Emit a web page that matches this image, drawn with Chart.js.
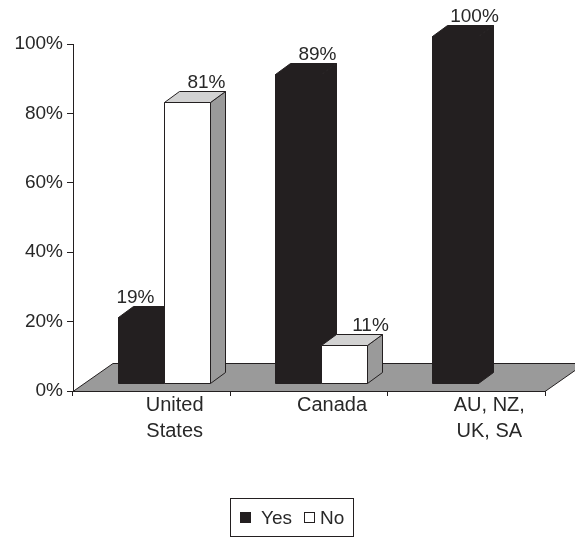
<!DOCTYPE html>
<html>
<head>
<meta charset="utf-8">
<script src="https://cdn.jsdelivr.net/npm/chart.js@4.4.1/dist/chart.umd.min.js"></script>
<style>
  html, body { margin: 0; padding: 0; background: #fff; }
  canvas { display: block; }
</style>
</head>
<body>
<canvas id="c" width="575" height="540"></canvas>
<script>
// Chart data
const categories = [['United', 'States'], 'Canada', ['AU, NZ,', 'UK, SA']];
const seriesNames = ['Yes', 'No'];
const yesValues = [19, 89, 100];
const noValues = [81, 11, 0];
const yTickValues = [0, 20, 40, 60, 80, 100];

const INK = '#231f20';
const TEXT = '#282828';
const FONT = "'Liberation Sans', Arial, sans-serif";

// 3D geometry: floor depth, bar depth and how far bars stand back from the front edge
const FLOOR_DEPTH = { dx: 40, dy: -28 };
const BAR_DEPTH = { dx: 15, dy: -11 };
const BAR_INSET = { dx: 12, dy: -8 };

// face colours per series
const faces = [
  { front: INK, side: INK, top: INK },
  { front: '#ffffff', side: '#9a9a9a', top: '#d2d2d2' }
];

// small horizontal nudges for value labels that would collide ("dataset:index")
const labelNudge = { '0:0': -25, '1:1': 7 };

function poly(ctx, pts, fill) {
  ctx.beginPath();
  ctx.moveTo(pts[0][0], pts[0][1]);
  for (let i = 1; i < pts.length; i++) ctx.lineTo(pts[i][0], pts[i][1]);
  ctx.closePath();
  ctx.fillStyle = fill;
  ctx.fill();
  ctx.lineWidth = 1;
  ctx.strokeStyle = INK;
  ctx.stroke();
}

const floorPlugin = {
  id: 'floor3d',
  beforeDatasetsDraw(chart) {
    const { ctx, chartArea: a } = chart;
    ctx.save();
    const b = a.bottom + 0.5;
    poly(ctx, [
      [a.left, b], [a.right, b],
      [a.right + FLOOR_DEPTH.dx, b + FLOOR_DEPTH.dy],
      [a.left + FLOOR_DEPTH.dx, b + FLOOR_DEPTH.dy]
    ], '#9a9a9a');
    ctx.restore();
  }
};

const bars3dPlugin = {
  id: 'bars3d',
  afterDatasetsDraw(chart) {
    const { ctx } = chart;
    const labels = [];
    ctx.save();
    for (let i = 0; i < categories.length; i++) {
      chart.data.datasets.forEach((ds, d) => {
        const v = ds.data[i];
        if (!(v > 0)) return;
        const el = chart.getDatasetMeta(d).data[i];
        const w = el.width;
        const L = Math.round(el.x - w / 2 + BAR_INSET.dx) + 0.5;
        const R = Math.round(el.x + w / 2 + BAR_INSET.dx) + 0.5;
        const T = Math.round(el.y + BAR_INSET.dy) + 0.5;
        const B = Math.round(el.base + BAR_INSET.dy) + 0.5;
        const f = faces[d];
        const dx = BAR_DEPTH.dx, dy = BAR_DEPTH.dy;
        poly(ctx, [[R, B], [R + dx, B + dy], [R + dx, T + dy], [R, T]], f.side);
        poly(ctx, [[L, T], [R, T], [R + dx, T + dy], [L + dx, T + dy]], f.top);
        poly(ctx, [[L, T], [R, T], [R, B], [L, B]], f.front);
        labels.push({
          text: v + '%',
          x: R + dx - w / 2 + 4 + (labelNudge[d + ':' + i] || 0),
          y: T + dy - 4
        });
      });
    }
    ctx.fillStyle = TEXT;
    ctx.font = '19px ' + FONT;
    ctx.textAlign = 'center';
    ctx.textBaseline = 'alphabetic';
    labels.forEach(l => ctx.fillText(l.text, l.x, l.y));
    ctx.restore();
  }
};

// boxed legend below the plot
const boxLegendPlugin = {
  id: 'boxLegend',
  afterDraw(chart) {
    const { ctx } = chart;
    ctx.save();
    ctx.font = '19px ' + FONT;
    const sq = 11, gapText = [10, 5], gapItem = 12, pad = 7;
    const widths = seriesNames.map(n => ctx.measureText(n).width);
    const total = sq + gapText[0] + widths[0] + gapItem + sq + gapText[1] + widths[1];
    const cx = chart.width / 2 + 5;
    const boxL = Math.round(cx - total / 2 - pad) - 2.5;
    const boxW = Math.round(total + pad * 2) + 5;
    const boxT = 498.5, boxH = 38;
    ctx.lineWidth = 1;
    ctx.strokeStyle = INK;
    ctx.strokeRect(boxL, boxT, boxW, boxH);
    let x = boxL + pad + 2.5;
    const midY = boxT + boxH / 2;
    seriesNames.forEach((n, k) => {
      ctx.fillStyle = faces[k].front;
      ctx.fillRect(Math.round(x), Math.round(midY - sq / 2), sq, sq);
      ctx.strokeStyle = INK;
      ctx.strokeRect(Math.round(x) + 0.5, Math.round(midY - sq / 2) + 0.5, sq - 1, sq - 1);
      x += sq + gapText[k];
      ctx.fillStyle = TEXT;
      ctx.textAlign = 'left';
      ctx.textBaseline = 'middle';
      ctx.fillText(n, x, midY + 1);
      x += widths[k] + gapItem;
    });
    ctx.restore();
  }
};

new Chart(document.getElementById('c'), {
  type: 'bar',
  data: {
    labels: categories,
    datasets: [
      { label: seriesNames[0], data: yesValues, backgroundColor: 'rgba(0,0,0,0)', borderWidth: 0 },
      { label: seriesNames[1], data: noValues, backgroundColor: 'rgba(0,0,0,0)', borderWidth: 0 }
    ]
  },
  options: {
    responsive: false,
    animation: false,
    events: [],
    layout: { padding: { left: 0, top: 44, right: 30, bottom: 0 } },
    datasets: { bar: { categoryPercentage: 0.585, barPercentage: 1.0 } },
    plugins: { legend: { display: false }, tooltip: { enabled: false } },
    scales: {
      x: {
        grid: { display: true, drawOnChartArea: false, drawTicks: true, tickLength: 5, color: INK, offset: true },
        border: { display: true, color: INK },
        ticks: {
          color: TEXT,
          font: { family: FONT, size: 20, lineHeight: 1.3 },
          labelOffset: 23,
          padding: -4,
          maxRotation: 0,
          autoSkip: false
        },
        afterFit(scale) { scale.height = 149; }
      },
      y: {
        min: 0,
        max: 100,
        afterBuildTicks(scale) { scale.ticks = yTickValues.map(v => ({ value: v })); },
        grid: { display: true, drawOnChartArea: false, drawTicks: true, tickLength: 6, color: INK },
        border: { display: true, color: INK },
        ticks: {
          color: TEXT,
          font: { family: FONT, size: 19 },
          padding: 4,
          callback: v => v + '%'
        },
        afterFit(scale) { scale.width = 73; }
      }
    }
  },
  plugins: [floorPlugin, bars3dPlugin, boxLegendPlugin]
});
</script>
</body>
</html>
